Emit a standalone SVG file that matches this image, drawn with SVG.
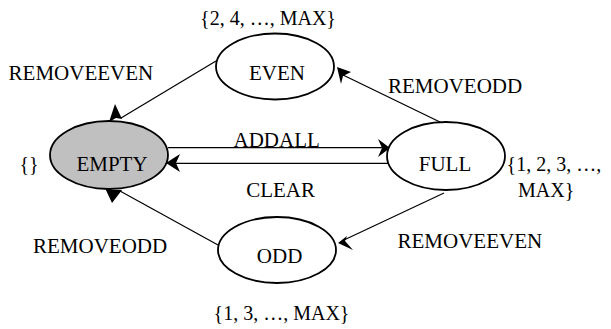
<svg xmlns="http://www.w3.org/2000/svg" width="611" height="329" viewBox="0 0 611 329">
<style>
text{font-family:"Liberation Serif","Times New Roman",serif;font-size:21px;fill:#000}
.set{font-size:20px}
.st{fill:#fff;stroke:#000;stroke-width:1.8}
.empty{fill:#c0c0c0}
.ln{stroke:#000;stroke-width:1.2;fill:none}
.ah{fill:#000;stroke:none}
</style>
<rect width="611" height="329" fill="#fff"/>
<g id="connectors">
  <line class="ln" x1="216" y1="61" x2="121" y2="118"/>
  <polygon class="ah" points="115,104 109,122 116,118 122,119"/>
  <line class="ln" x1="442" y1="123" x2="343" y2="75"/>
  <polygon class="ah" points="337,67 341,84 343,76 351,72"/>
  <line class="ln" x1="168" y1="147.7" x2="384" y2="147.7"/>
  <polygon class="ah" points="390,148 378,139 382,148 378,157"/>
  <line class="ln" x1="388" y1="163.3" x2="172" y2="163.3"/>
  <polygon class="ah" points="166,163 180,154 176,163 180,172"/>
  <line class="ln" x1="218" y1="245" x2="120" y2="191"/>
  <polygon class="ah" points="112,203 105,188 113,190 122,190"/>
  <line class="ln" x1="444" y1="193" x2="344" y2="240"/>
  <polygon class="ah" points="338,243 347,236 345,241 353,250"/>
  <text x="8.6" y="80">REMOVEEVEN</text>
  <text x="388" y="93">REMOVEODD</text>
  <text x="276.7" y="146.5" text-anchor="middle">ADDALL</text>
  <text x="280.6" y="197" text-anchor="middle">CLEAR</text>
  <text x="33" y="252.7">REMOVEODD</text>
  <text x="397.5" y="248">REMOVEEVEN</text>
</g>
<g id="even">
  <ellipse class="st" cx="275" cy="66.5" rx="59" ry="33"/>
  <text x="277" y="80" text-anchor="middle">EVEN</text>
  <text class="set" x="268" y="25" text-anchor="middle">{2, 4, …, MAX}</text>
</g>
<g id="empty">
  <ellipse class="st empty" cx="109" cy="155" rx="59" ry="34"/>
  <text x="112" y="171" text-anchor="middle">EMPTY</text>
  <text class="set" x="19.5" y="171">{}</text>
</g>
<g id="full">
  <ellipse class="st" cx="446" cy="156" rx="59" ry="34"/>
  <text x="445" y="171" text-anchor="middle">FULL</text>
  <text class="set" x="506.6" y="171">{1, 2, 3, …,</text>
  <text class="set" x="518" y="197">MAX}</text>
</g>
<g id="odd">
  <ellipse class="st" cx="277" cy="250" rx="59" ry="33"/>
  <text x="279.6" y="263" text-anchor="middle">ODD</text>
  <text class="set" x="281.5" y="320" text-anchor="middle">{1, 3, …, MAX}</text>
</g>
</svg>
